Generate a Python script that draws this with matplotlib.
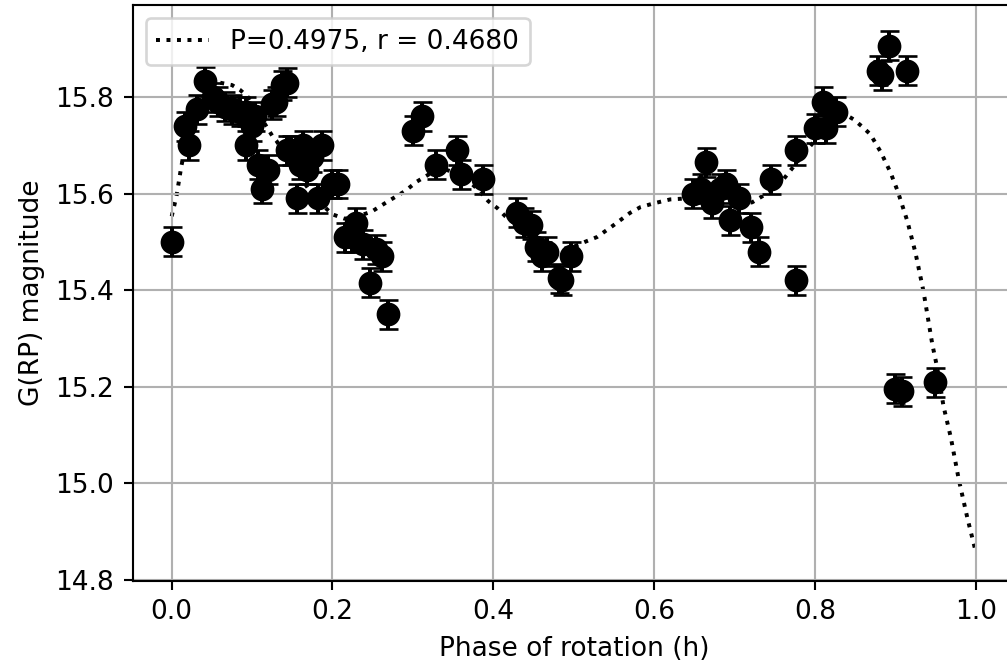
import numpy as np
import matplotlib
matplotlib.use('Agg')
import matplotlib.pyplot as plt

# measured points (phase, magnitude)
phase = [0.000, 0.016, 0.022, 0.032, 0.041, 0.051, 0.057, 0.066, 0.075, 0.085,
         0.093, 0.092, 0.100, 0.103, 0.107, 0.112, 0.120, 0.125, 0.130, 0.137,
         0.144, 0.143, 0.149, 0.156, 0.160, 0.163, 0.168, 0.174, 0.182, 0.187,
         0.199, 0.207, 0.215, 0.224, 0.229, 0.238, 0.247, 0.254, 0.262, 0.269,
         0.300, 0.311, 0.329, 0.355, 0.360, 0.387, 0.430, 0.438, 0.447, 0.453,
         0.460, 0.467, 0.482, 0.486, 0.497, 0.649, 0.658, 0.665, 0.672, 0.682,
         0.690, 0.695, 0.705, 0.720, 0.730, 0.746, 0.777, 0.777, 0.800, 0.810,
         0.814, 0.826, 0.878, 0.883, 0.892, 0.915, 0.900, 0.908, 0.949]
mag = [15.50, 15.74, 15.70, 15.775, 15.833, 15.80, 15.79, 15.78, 15.775, 15.77,
       15.77, 15.70, 15.74, 15.76, 15.66, 15.61, 15.65, 15.785, 15.79, 15.825,
       15.83, 15.69, 15.69, 15.59, 15.66, 15.70, 15.65, 15.675, 15.59, 15.70,
       15.62, 15.62, 15.51, 15.51, 15.54, 15.495, 15.415, 15.485, 15.47, 15.35,
       15.73, 15.76, 15.66, 15.69, 15.64, 15.63, 15.56, 15.54, 15.535, 15.49,
       15.47, 15.48, 15.425, 15.42, 15.47, 15.60, 15.61, 15.665, 15.58, 15.61,
       15.62, 15.545, 15.59, 15.53, 15.48, 15.63, 15.69, 15.42, 15.735, 15.79,
       15.735, 15.77, 15.855, 15.845, 15.907, 15.855, 15.196, 15.19, 15.209]
mag_err = [0.03] * len(phase)

# fitted light curve
fit_phase = [0.000, 0.006, 0.012, 0.020, 0.030, 0.045, 0.060, 0.075, 0.085, 0.095,
             0.110, 0.125, 0.130, 0.150, 0.170, 0.185, 0.200, 0.215, 0.230, 0.249,
             0.270, 0.290, 0.305, 0.320, 0.340, 0.360, 0.380, 0.394, 0.405, 0.415,
             0.440, 0.460, 0.480, 0.500, 0.514, 0.529, 0.550, 0.570, 0.583, 0.600,
             0.620, 0.640, 0.660, 0.680, 0.700, 0.722, 0.732, 0.750, 0.761, 0.773,
             0.790, 0.810, 0.830, 0.840, 0.848, 0.858, 0.869, 0.882, 0.894, 0.903,
             0.915, 0.925, 0.935, 0.946, 0.952, 0.960, 0.969, 0.979, 0.990, 1.000]
fit_mag = [15.553, 15.595, 15.657, 15.720, 15.770, 15.815, 15.830, 15.825, 15.815, 15.800,
           15.760, 15.720, 15.710, 15.660, 15.610, 15.580, 15.557, 15.548, 15.552, 15.563,
           15.585, 15.605, 15.625, 15.640, 15.650, 15.640, 15.610, 15.584, 15.570, 15.553,
           15.520, 15.495, 15.483, 15.490, 15.500, 15.510, 15.535, 15.560, 15.572, 15.580,
           15.588, 15.590, 15.585, 15.578, 15.576, 15.582, 15.592, 15.610, 15.630, 15.655,
           15.690, 15.730, 15.760, 15.762, 15.754, 15.740, 15.723, 15.686, 15.644, 15.605,
           15.543, 15.478, 15.398, 15.288, 15.240, 15.159, 15.095, 15.007, 14.925, 14.858]

fit_label = 'P=0.4975, r = 0.4680'

DPI = 190
fig = plt.figure(figsize=(1008 / DPI, 667 / DPI), dpi=DPI)
ax = fig.add_axes([132.7 / 1008, 86 / 667, 883.2 / 1008, 576 / 667])

ax.plot(fit_phase, fit_mag, 'k:', label=fit_label, zorder=1)
ax.errorbar(phase, mag, yerr=mag_err, fmt='o', color='black',
            markersize=8, capsize=3.6, zorder=2)

ax.set_xlim(-0.0485, 1.05)
ax.set_ylim(14.797, 15.991)
ax.set_xticks([0.0, 0.2, 0.4, 0.6, 0.8, 1.0])
ax.set_yticks([14.8, 15.0, 15.2, 15.4, 15.6, 15.8])
ax.set_xlabel('Phase of rotation (h)')
ax.set_ylabel('G(RP) magnitude')
ax.grid(True)
ax.legend(loc='upper left')

fig.savefig('out.png', dpi=DPI)
